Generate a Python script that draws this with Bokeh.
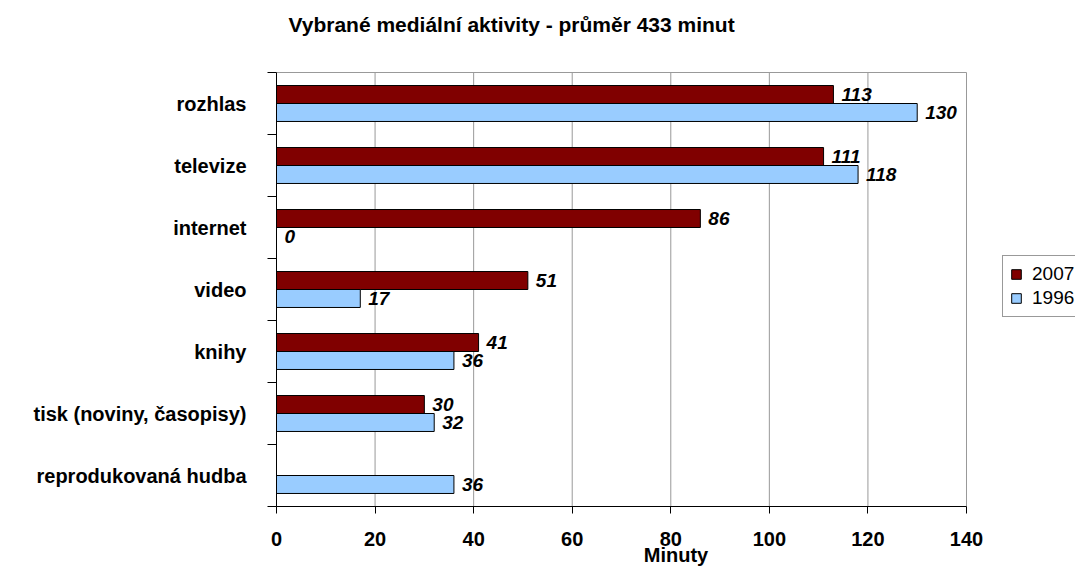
from bokeh.plotting import figure
from bokeh.models import Range1d, FixedTicker, Legend, LegendItem, ColumnDataSource, Label
from bokeh.core.properties import value
from bokeh.embed import file_html
from bokeh.resources import INLINE

# ---- data ----
categories = ["rozhlas", "televize", "internet", "video", "knihy",
              "tisk (noviny, časopisy)", "reprodukovaná hudba"]
minutes_2007 = [113, 111, 86, 51, 41, 30, None]
minutes_1996 = [130, 118, 0, 17, 36, 32, 36]
x_ticks = [0, 20, 40, 60, 80, 100, 120, 140]
series_names = ["2007", "1996"]
series_colors = ["#800000", "#99CCFF"]
title_text = "Vybrané mediální aktivity - průměr 433 minut"
x_title = "Minuty"

FONT = "Liberation Sans"
n = len(categories)
pos = [n - 1 - i for i in range(n)]
bar_h = 0.29
x_max = x_ticks[-1]

# layout: frame covers the area right of the category labels and above the x axis;
# the value range 0..140 occupies the left part, the rest holds the legend.
W, H = 1075, 569
LEFT, BOTTOM = 276, 63
px_per_x = 690 / x_max
px_per_y = 62.0
y_top = -0.5 + (H - BOTTOM) / px_per_y
x_right = (W - LEFT) / px_per_x

p = figure(width=W, height=H, x_range=Range1d(0, x_right), y_range=Range1d(-0.5, y_top),
           output_backend="svg", toolbar_location=None, title=None,
           min_border_left=LEFT, min_border_right=0, min_border_top=0, min_border_bottom=BOTTOM)
p.outline_line_color = None
p.background_fill_color = "white"
p.border_fill_color = "white"
p.xgrid.visible = False
p.ygrid.visible = False

# grid lines and plot-area border (top, right) limited to the value area
grid_src = ColumnDataSource(dict(x=x_ticks[1:]))
p.segment(x0="x", y0=-0.5, x1="x", y1=n - 0.5, source=grid_src,
          line_color="#999999", line_width=1)
p.segment(x0=0, y0=n - 0.5, x1=x_max, y1=n - 0.5, line_color="#999999", line_width=1)

renderers = []
for vals, shift, color in [(minutes_2007, bar_h / 2, series_colors[0]),
                           (minutes_1996, -bar_h / 2, series_colors[1])]:
    ys = [pos[i] + shift for i in range(n) if vals[i] is not None]
    xs = [vals[i] for i in range(n) if vals[i] is not None]
    src = ColumnDataSource(dict(y=ys, right=xs, text=[str(v) for v in xs]))
    r = p.hbar(y="y", right="right", left=0, height=bar_h, source=src,
               fill_color=color, line_color="black", line_width=1)
    renderers.append(r)
    p.text(x="right", y="y", text="text", source=src, x_offset=8,
           text_align="left", text_baseline="middle",
           text_font=value(FONT), text_font_style="bold italic",
           text_font_size="19px", text_color="black")

# left (category) axis: labels at centres, ticks at category boundaries
ya = p.yaxis[0]
ya.bounds = (-0.5, n - 0.5)
ya.ticker = FixedTicker(ticks=pos, minor_ticks=[k - 0.5 for k in range(n + 1)])
ya.major_label_overrides = {pos[i]: categories[i] for i in range(n)}
ya.major_tick_line_color = None
ya.major_tick_out = 0
ya.major_tick_in = 0
ya.minor_tick_out = 9
ya.minor_tick_in = 0
ya.minor_tick_line_color = "black"
ya.axis_line_color = "black"
ya.major_label_standoff = 21
ya.major_label_text_font = FONT
ya.major_label_text_font_style = "bold"
ya.major_label_text_font_size = "20px"
ya.major_label_text_color = "black"

# bottom (value) axis
xa = p.xaxis[0]
xa.bounds = (0, x_max)
xa.ticker = FixedTicker(ticks=x_ticks, minor_ticks=[])
xa.major_tick_out = 7
xa.major_tick_in = 0
xa.major_tick_line_color = "black"
xa.axis_line_color = "black"
xa.major_label_standoff = 18
xa.major_label_text_font = FONT
xa.major_label_text_font_style = "bold"
xa.major_label_text_font_size = "20px"
xa.major_label_text_color = "black"
xa.axis_label = x_title
xa.axis_label_standoff = -5
xa.axis_label_text_font = FONT
xa.axis_label_text_font_style = "bold"
xa.axis_label_text_font_size = "20px"
xa.axis_label_text_color = "black"

# chart title
p.add_layout(Label(x=47.7, y=y_top - 24 / px_per_y, text=title_text,
                   text_align="center", text_baseline="alphabetic",
                   text_font=FONT, text_font_style="bold", text_font_size="21px",
                   text_color="black"))

legend = Legend(items=[LegendItem(label=series_names[0], renderers=[renderers[0]]),
                       LegendItem(label=series_names[1], renderers=[renderers[1]])],
                location=(726, 189))
legend.border_line_color = "#333333"
legend.background_fill_color = "white"
legend.background_fill_alpha = 1
legend.label_text_font = FONT
legend.label_text_font_size = "19px"
legend.label_text_color = "black"
legend.glyph_width = 12
legend.glyph_height = 12
legend.label_standoff = 10
legend.padding = 7
legend.spacing = 2
legend.margin = 0
p.add_layout(legend)

open("out.html", "w").write(file_html(p, INLINE))
